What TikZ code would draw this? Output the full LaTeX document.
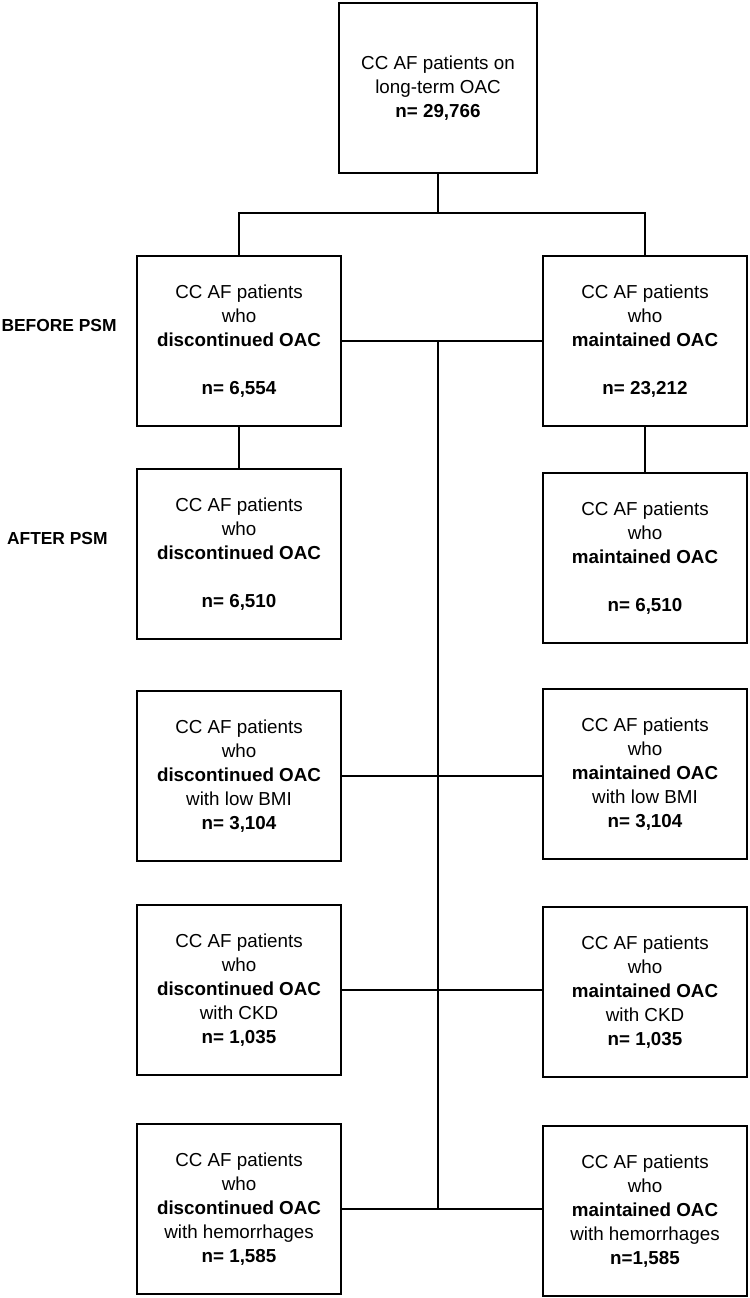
\documentclass[tikz,border=0pt]{standalone}
\usepackage{fontspec}
\setmainfont{Liberation Sans}
\usepackage{tikz}
\usetikzlibrary{positioning}

\begin{document}
\begin{tikzpicture}[box/.style={rectangle, draw, line width=1.4pt, minimum width=102pt, minimum height=85pt, inner sep=2pt, outer sep=0pt, align=center, font=\fontsize{9.4}{12}\selectfont},
        phase/.style={font=\fontsize{8.7}{12}\selectfont\bfseries, inner sep=0pt},
        link/.style={line width=1.4pt},
        node distance=1cm]
        \useasboundingbox (0,0) rectangle (375pt,-649pt);
        % top box, then the two columns hang from it
        \node[box, minimum width=99pt] (top) at (219pt,-44pt) {CC AF patients on\\long-term OAC\\\textbf{n= 29,766}};
        \node[box] (disc0) at (119.5pt,-170.5pt) {CC AF patients\\who\\\textbf{discontinued OAC}\\[12pt]\textbf{n= 6,554}};
        \node[box] (main0) [right = 101pt of disc0] {CC AF patients\\who\\\textbf{maintained OAC}\\[12pt]\textbf{n= 23,212}};
        \node[box] (disc1) [below = 21.5pt of disc0] {CC AF patients\\who\\\textbf{discontinued OAC}\\[12pt]\textbf{n= 6,510}};
        \node[box] (main1) [below = 23.5pt of main0] {CC AF patients\\who\\\textbf{maintained OAC}\\[12pt]\textbf{n= 6,510}};
        \node[box] (disc2) [below = 26pt of disc1] {CC AF patients\\who\\\textbf{discontinued OAC}\\with low BMI\\\textbf{n= 3,104}};
        \node[box] (main2) [below = 23pt of main1] {CC AF patients\\who\\\textbf{maintained OAC}\\with low BMI\\\textbf{n= 3,104}};
        \node[box] (disc3) [below = 22pt of disc2] {CC AF patients\\who\\\textbf{discontinued OAC}\\with CKD\\\textbf{n= 1,035}};
        \node[box] (main3) [below = 24pt of main2] {CC AF patients\\who\\\textbf{maintained OAC}\\with CKD\\\textbf{n= 1,035}};
        \node[box] (disc4) [below = 24.5pt of disc3] {CC AF patients\\who\\\textbf{discontinued OAC}\\with hemorrhages\\\textbf{n= 1,585}};
        \node[box] (main4) [below = 24.5pt of main3] {CC AF patients\\who\\\textbf{maintained OAC}\\with hemorrhages\\\textbf{n=1,585}};

        \node[phase] (before) [left = 10pt of disc0, yshift=8pt] {BEFORE PSM};
        \node[phase] (after) [left = 14.5pt of disc1, yshift=8pt] {AFTER PSM};

        \coordinate[below = 20pt of top.south] (split);
        \draw[link] (top.south) -- (split);
        \draw[link] (disc0.north) |- (split) -| (main0.north);
        \draw[link] (disc0.south) -- (disc1.north);
        \draw[link] (main0.south) -- (main1.north);
        \draw[link] (disc0.east) -- (disc0.east -| main0.west);
        \draw[link] (top.south |- disc0.east) -- (top.south |- disc4.east);
        \draw[link] (disc2.east) -- (disc2.east -| main2.west);
        \draw[link] (disc3.east) -- (disc3.east -| main3.west);
        \draw[link] (disc4.east) -- (disc4.east -| main4.west);
    \end{tikzpicture}
\end{document}
